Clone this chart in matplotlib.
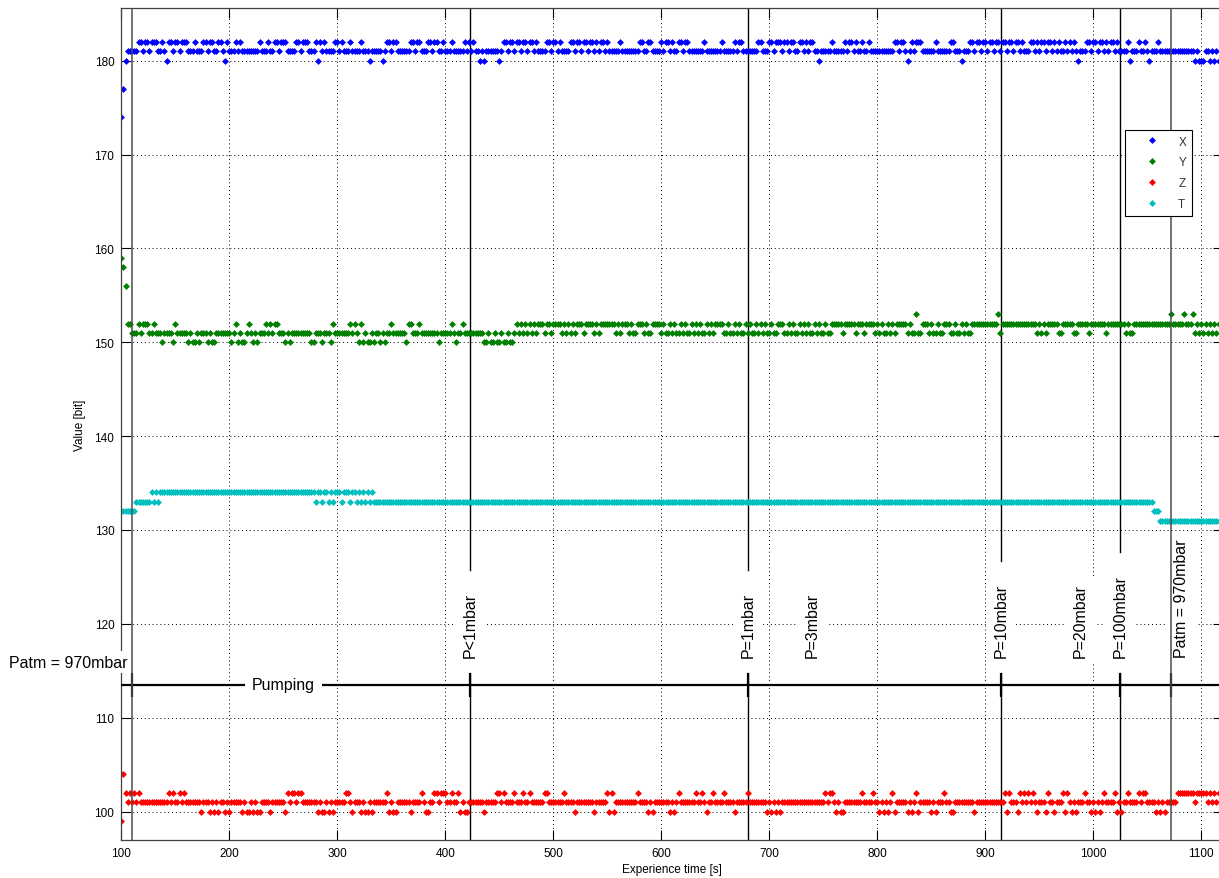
import numpy as np
import matplotlib.pyplot as plt

plt.rcParams['font.family'] = ['Liberation Sans', 'DejaVu Sans']

# one reading every 2 s, starting at t = 100 s
t_start = 100
t_step = 2

# each character is one reading, decoded with the level tables
x_levels = {'a': 174, 'b': 177, '0': 180, '1': 181, '2': 182}
x_codes = (
    "ab01111122 1221222112 1022122122 2111211122 1221122102 "
    "1112121111 1111211121 1221222111 1221222111 2021211112 "
    "2121112111 1211101111 1012212211 1111221221 1122122112 "
    "1112111112 1212110101 1111101221 2212212212 2121111221 "
    "2212111122 1221221221 2122121111 1211111111 2211221111 "
    "2122121122 1221111111 2111111121 1111212211 1111122111 "
    "2212221221 2211221212 2110111112 1111121221 2112112111 "
    "1111111122 1221012122 2111111211 1111221110 1112212212 "
    "2122122122 1221221211 1221212212 2121211212 1210111221 "
    "2212212122 1211112011 1211210111 2111111111 1111111010 "
    "0011010101"
)

y_levels = {'0': 150, '1': 151, '2': 152, '3': 153, 'a': 156, 'b': 158, 'c': 159}
y_codes = (
    "cba2211121 2221121110 1111021111 1010010111 0100111111 "
    "1012010012 1010111212 1221110101 1111111100 1110111021 "
    "1111112121 0201001011 0101121111 1102211121 1111111011 "
    "1112101121 1111111100 1001001001 0012121212 1212221221 "
    "2222121212 1222122221 2122222221 2122212112 2212112222 "
    "1211212112 1211212121 1212122221 1211212112 1211212121 "
    "1211222112 1211212121 1212112112 2222122222 1222122221 "
    "2121121212 2222121131 1222121121 1222112112 1211222222 "
    "2222223122 2222222222 2222121212 2222112222 2112222212 "
    "2222221222 2222212112 2222222222 2222223222 2232223121 "
    "2121212121"
)

z_levels = {'9': 99, '0': 100, '1': 101, '2': 102, '4': 104}
z_codes = (
    "9421212121 1111111111 1121211212 1111111011 1010101101 "
    "0111110100 1010011110 1111110212 2122111111 1010010101 "
    "1111221011 1010010111 1112010011 1111011112 1001122122 "
    "2112112010 0111111101 1111221211 1121112112 1111112211 "
    "1111121111 0111111110 1111120201 1111111112 1111010111 "
    "1111010121 1111112112 1011211112 1111011111 2111111110 "
    "1010101111 1111111111 1111112122 1010011111 1112111121 "
    "1010101201 1111010120 1111101011 1211001111 1111101111 "
    "1111111112 0211102121 2121011102 1101112021 0101112110 "
    "1010121111 2010112111 1212211110 1010111112 2222222122 "
    "2221212121"
)

t_levels = {'1': 131, '2': 132, '3': 133, '4': 134}
t_codes = (
    "2222222333 3333434344 4444444444 4444444444 4444444444 "
    "4444444444 4444444444 4444444444 4444444444 3443443434 "
    "4434443443 4343434333 3333333333 3333333333 3333333333 "
    "3333333333 3333333333 3333333333 3333333333 3333333333 "
    "3333333333 3333333333 3333333333 3333333333 3333333333 "
    "3333333333 3333333333 3333333333 3333333333 3333333333 "
    "3333333333 3333333333 3333333333 3333333333 3333333333 "
    "3333333333 3333333333 3333333333 3333333333 3333333333 "
    "3333333333 3333333333 3333333333 3333333333 3333333333 "
    "3333333333 3333333333 3333333322 2111111111 1111111111 "
    "1111111111"
)

series_names = ['X', 'Y', 'Z', 'T']
series_colors = ['#0000ff', '#008000', '#ff0000', '#00bfbf']

# pressure events
event_x = [109.6, 423, 680.5, 914.5, 1024.5, 1071.5]
label_x = [423, 680.5, 740, 914.5, 988, 1024.5, 1082]
label_txt = ['P<1mbar', 'P=1mbar', 'P=3mbar', 'P=10mbar', 'P=20mbar',
             'P=100mbar', 'Patm = 970mbar']
phase_y = 113.5


def decode(codes, levels):
    s = codes.replace(' ', '')
    v = np.array([levels[c] for c in s], dtype=float)
    t = t_start + t_step * np.arange(len(v))
    return t, v


fig = plt.figure(figsize=(12.19, 8.79), dpi=100)
ax = fig.add_axes([0.0995, 0.0436, 0.9037, 0.9459])
ax.set_xlim(100, 1120)
ax.set_ylim(97, 185.6)
ax.set_axisbelow(True)

for codes, levels, name, col in zip([x_codes, y_codes, z_codes, t_codes],
                                    [x_levels, y_levels, z_levels, t_levels],
                                    series_names, series_colors):
    t, v = decode(codes, levels)
    ax.plot(t, v, linestyle='none', marker='D', ms=3.5, mew=0,
            color=col, label=name, zorder=2)

ax.set_xticks(np.arange(100, 1101, 100))
ax.set_yticks(np.arange(100, 181, 10))
ax.grid(True, color='k', linestyle=(0, (1, 3)), linewidth=0.7)
ax.tick_params(direction='in', top=True, right=True, length=7, width=0.8,
               labelsize=8.5, pad=5)
for sp in ax.spines.values():
    sp.set_linewidth(0.9)
    sp.set_color('0.25')

ax.set_xlabel('Experience time [s]', fontsize=8.5, labelpad=3,
              family=['Liberation Sans Narrow', 'Liberation Sans'])
ax.set_ylabel('Value [bit]', fontsize=8.5, labelpad=6,
              family=['Liberation Sans Narrow', 'Liberation Sans'])

# phase line with ticks
ax.plot([100, 1120], [phase_y, phase_y], color='k', lw=1.6, zorder=3)
ax.plot(event_x, [phase_y] * len(event_x), linestyle='none', marker='|',
        ms=17, mew=1.6, color='k', zorder=3)
ax.text(250, phase_y, 'Pumping', ha='center', va='center', fontsize=11.5,
        bbox=dict(fc='white', ec='none', pad=5), zorder=4)
ax.text(105.3, 115.9, 'Patm = 970mbar', ha='right', va='center',
        fontsize=11.5, clip_on=False,
        bbox=dict(fc='white', ec='none', pad=2.5), zorder=6)

texts = {}
for x, s in zip(label_x, label_txt):
    texts[x] = ax.text(x, 116.5, s, rotation=90, ha='center', va='bottom',
                       fontsize=11.5, zorder=4,
                       bbox=dict(fc='white', ec='none', pad=5))

fig.canvas.draw()
r = fig.canvas.get_renderer()
inv = ax.transData.inverted()
y0, y1 = ax.get_ylim()
for x in event_x:
    if x in texts:
        bb = texts[x].get_window_extent(r)
        ytop = inv.transform((0, bb.y1 + 22))[1]
        ax.plot([x, x], [ytop, y1], color='k', lw=1, zorder=1.5)
        ax.plot([x, x], [y0, phase_y + 1.3], color='k', lw=1, zorder=1.5)
    else:
        ax.plot([x, x], [y0, y1], color='0.3', lw=1.1, zorder=5)

leg = ax.legend(loc='upper right', bbox_to_anchor=(0.972, 0.854),
                fancybox=False, edgecolor='k', framealpha=1, fontsize=8.5,
                handlelength=3.6, handletextpad=0.4, borderpad=0.5,
                labelspacing=0.75, borderaxespad=0, numpoints=1)
leg.get_frame().set_linewidth(0.8)
for txt in leg.get_texts():
    txt.set_color('0.2')

fig.savefig('out.png', dpi=100)
